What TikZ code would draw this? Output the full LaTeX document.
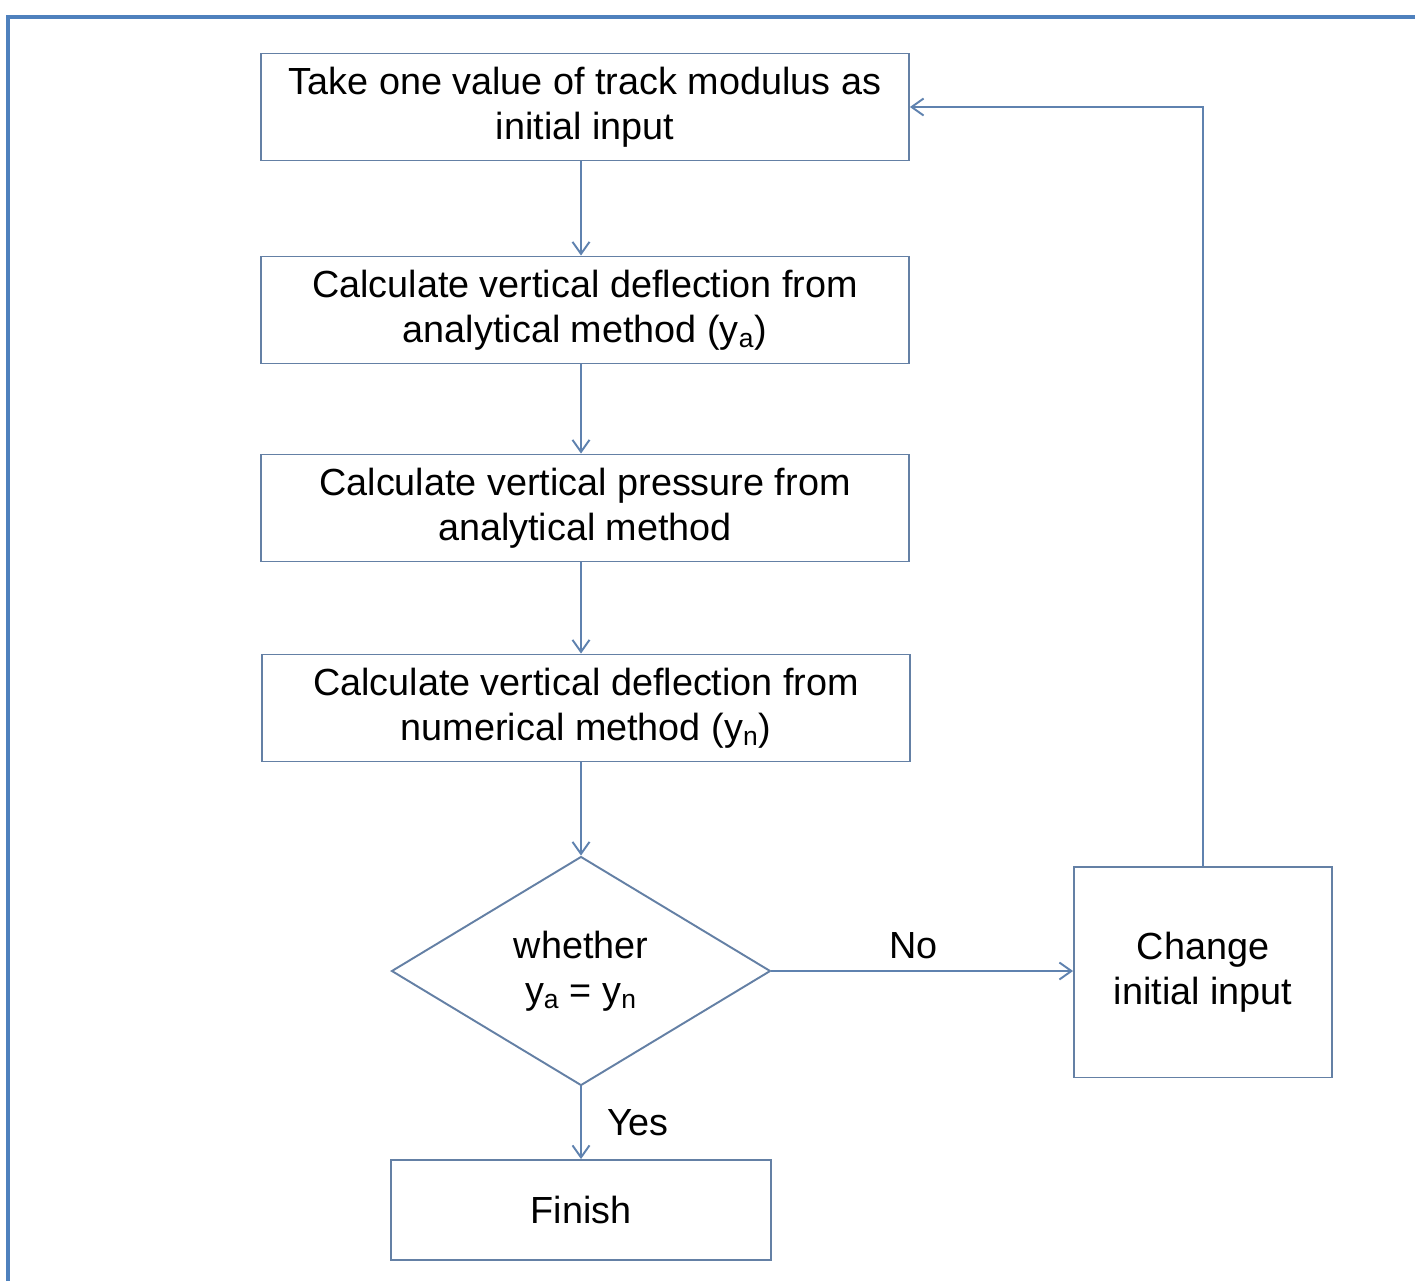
\documentclass[tikz,border=0pt]{standalone}
\usepackage{fontspec}
\setmainfont{Liberation Sans}
\usetikzlibrary{positioning}
\usetikzlibrary{shapes}
\usetikzlibrary{arrows.meta}
\usepackage{xcolor}
\definecolor{framecol}{RGB}{79,129,189}
\definecolor{linecol}{RGB}{95,130,175}
\definecolor{boxcol}{RGB}{100,128,165}

\tikzset{
  stepbox/.style={draw=boxcol, line width=1.1pt, rectangle, align=center, inner sep=0pt,
    minimum width=12.96cm, minimum height=2.14cm},
  ask/.style={draw=boxcol, line width=1.1pt, diamond, align=center, inner sep=0pt,
    minimum width=7.58cm, minimum height=4.58cm},
  flow/.style={draw=linecol, line width=1.1pt, -{Straight Barb[length=2.4mm,width=3.4mm]}}
}

\begin{document}
\begin{tikzpicture}[x=0.02cm, y=-0.02cm,
  every node/.style={font=\fontsize{21.5}{25.6}\selectfont}]

\useasboundingbox (0,0) rectangle (1415,1281);
\draw[framecol, line width=2.2pt] (8,1281) -- (8,17) -- (1415,17);

\node[stepbox] (inp) at (585, 107) {Take one value of track modulus as\\initial input};
\node[stepbox] (ya) at (585, 310) {Calculate vertical deflection from\\analytical method (y\textsubscript{a})};
\node[stepbox] (pa) at (585, 508) {Calculate vertical pressure from\\analytical method};
\node[stepbox] (yn) at (586, 708) {Calculate vertical deflection from\\numerical method (y\textsubscript{n})};
\node[ask] (cmp) at (581, 971) {whether\\y\textsubscript{a} = y\textsubscript{n}};
\node[stepbox, minimum width=5.16cm, minimum height=4.22cm] (chg) at (1203, 972) {Change\\initial input};
\node[stepbox, minimum width=7.6cm, minimum height=2cm] (fin) at (581, 1210) {Finish};

\draw[flow] (inp.south -| cmp.north) to (ya.north -| cmp.north);
\draw[flow] (ya.south -| cmp.north) to (pa.north -| cmp.north);
\draw[flow] (pa.south -| cmp.north) to (yn.north -| cmp.north);
\draw[flow] (yn.south -| cmp.north) to (cmp.north);

\draw[flow] (cmp.east) to node[midway, above, xshift=-5pt, yshift=3pt] {No} (cmp.east -| chg.west);
\draw[flow] (cmp.south) to node[midway, right, xshift=11pt] {Yes} (fin.north);
\draw[flow] (chg.north) |- (inp.east);

\end{tikzpicture}
\end{document}
